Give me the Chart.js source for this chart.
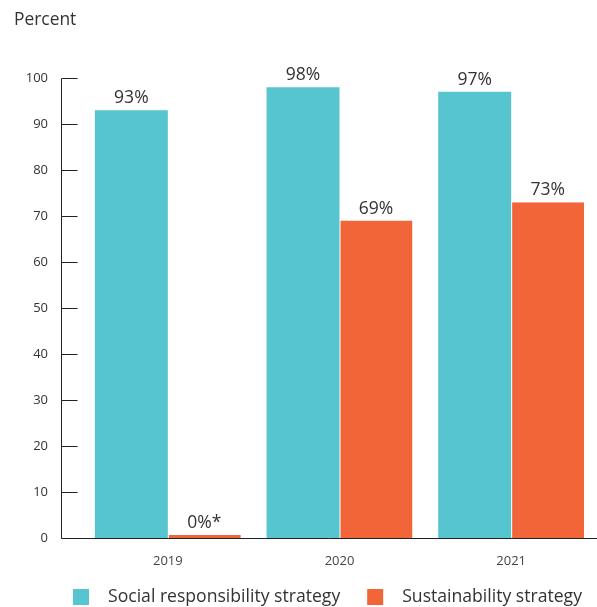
<!DOCTYPE html>
<html>
<head>
<meta charset="utf-8">
<script src="https://cdn.jsdelivr.net/npm/chart.js@4"></script>
<style>
  html, body { margin: 0; padding: 0; background: #fff; }
  #wrap { width: 597px; height: 607px; position: relative; }
</style>
</head>
<body>
<div id="wrap"><canvas id="chart"></canvas></div>
<script>
// Share of respondents with each strategy, by year
const years = ['2019', '2020', '2021'];
const socialValues = [93, 98, 97];
const sustainValues = [0, 69, 73];
const sustainNotes = ['*', '', ''];
const yTicks = [0, 10, 20, 30, 40, 50, 60, 70, 80, 90, 100];
const seriesNames = ['Social responsibility strategy', 'Sustainability strategy'];

const TEAL = '#56c5cf';
const ORANGE = '#f26539';
const TEXT = '#333333';
const FONT = "'Open Sans', 'Noto Sans', sans-serif";

// Axis line and inward tick marks, drawn under the bars
const axesPlugin = {
  id: 'axes',
  beforeDatasetsDraw(chart) {
    const { ctx, chartArea, scales } = chart;
    const y = scales.y;
    const axisX = 61.5;
    const y0 = Math.round(y.getPixelForValue(0)) + 0.5;
    ctx.save();
    ctx.strokeStyle = '#222';
    ctx.lineWidth = 1;
    ctx.beginPath();
    ctx.moveTo(axisX, Math.round(y.getPixelForValue(100)) + 0.5);
    ctx.lineTo(axisX, y0);
    ctx.lineTo(chartArea.right, y0);
    yTicks.forEach((t) => {
      const py = Math.round(y.getPixelForValue(t)) + 0.5;
      ctx.moveTo(axisX, py);
      ctx.lineTo(axisX + 16, py);
    });
    ctx.stroke();
    ctx.restore();
  },
};

// Percentage labels above each bar
const valueLabelPlugin = {
  id: 'valueLabels',
  afterDatasetsDraw(chart) {
    const { ctx } = chart;
    ctx.save();
    ctx.font = '17.5px ' + FONT;
    ctx.fillStyle = TEXT;
    ctx.textAlign = 'center';
    ctx.textBaseline = 'bottom';
    chart.data.datasets.forEach((ds, di) => {
      chart.getDatasetMeta(di).data.forEach((bar, i) => {
        const note = ds.notes ? ds.notes[i] : '';
        ctx.fillText(ds.data[i] + '%' + note, bar.x, bar.y - 3);
      });
    });
    ctx.restore();
  },
};

// Legend row along the bottom
const legendPlugin = {
  id: 'bottomLegend',
  afterDraw(chart) {
    const { ctx } = chart;
    const cy = 597;
    let x = 73;
    ctx.save();
    ctx.font = '17.6px ' + FONT;
    ctx.textBaseline = 'middle';
    ctx.textAlign = 'left';
    chart.data.datasets.forEach((ds) => {
      ctx.fillStyle = ds.backgroundColor;
      ctx.fillRect(x, cy - 8, 16, 16);
      x += 35;
      ctx.fillStyle = TEXT;
      ctx.fillText(ds.label, x, cy);
      x += ctx.measureText(ds.label).width + 27;
    });
    ctx.restore();
  },
};

new Chart(document.getElementById('chart'), {
  type: 'bar',
  data: {
    labels: years,
    datasets: [
      {
        label: seriesNames[0],
        data: socialValues,
        backgroundColor: TEAL,
        borderWidth: 0,
        categoryPercentage: 0.85,
        barPercentage: 1,
      },
      {
        label: seriesNames[1],
        data: sustainValues,
        notes: sustainNotes,
        backgroundColor: ORANGE,
        borderColor: '#ffffff',
        borderWidth: { left: 1, top: 0, right: 0, bottom: 0 },
        borderSkipped: false,
        minBarLength: 3,
        categoryPercentage: 0.85,
        barPercentage: 1,
      },
    ],
  },
  options: {
    responsive: true,
    maintainAspectRatio: false,
    animation: false,
    layout: { padding: { left: 14, top: 0, right: 0, bottom: 0 } },
    plugins: {
      legend: { display: false },
      tooltip: { enabled: false },
      title: {
        display: true,
        text: 'Percent',
        align: 'start',
        color: TEXT,
        font: { family: FONT, size: 17.4, weight: 'normal' },
        padding: { top: 10, bottom: 47.1 },
      },
    },
    scales: {
      x: {
        grid: { display: false, drawTicks: false },
        border: { display: false },
        ticks: { color: '#444', padding: 15, font: { family: FONT, size: 13 } },
        afterFit(scale) { scale.height = 69; },
      },
      y: {
        min: 0,
        max: 100,
        grid: { display: false, drawTicks: false },
        border: { display: false },
        afterBuildTicks(scale) { scale.ticks = yTicks.map((v) => ({ value: v })); },
        ticks: { color: TEXT, padding: 34, font: { family: FONT, size: 13 } },
        afterFit(scale) { scale.width = 68; },
      },
    },
  },
  plugins: [axesPlugin, valueLabelPlugin, legendPlugin],
});
</script>
</body>
</html>
